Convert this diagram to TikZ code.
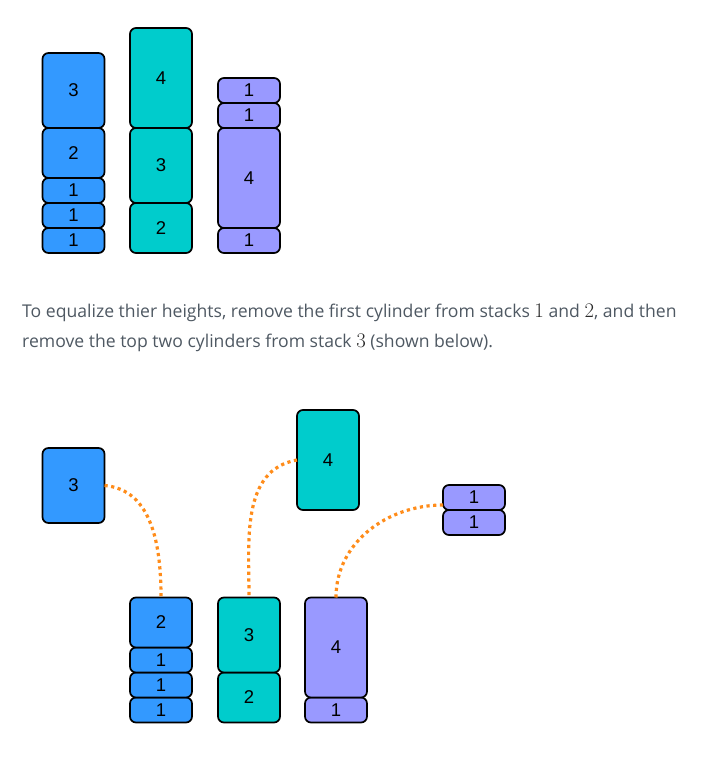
\documentclass[tikz,border=0pt]{standalone}
\usepackage{fontspec}
\setmainfont{Open Sans}
\newfontfamily\cylfont{Liberation Sans}
\usetikzlibrary{positioning}

\definecolor{cylblue}{RGB}{51,153,255}
\definecolor{cylteal}{RGB}{0,204,204}
\definecolor{cylpurple}{RGB}{153,153,255}
\definecolor{dotorange}{RGB}{255,140,26}
\definecolor{textgrey}{RGB}{78,88,98}
\definecolor{mathgrey}{RGB}{40,40,40}

\newcommand{\stacknum}[1]{{\fontsize{21.5}{21.5}\selectfont\color{mathgrey}$#1$}}

\tikzset{
  cyl/.style={draw, line width=1.7pt, rounded corners=6pt, minimum width=62pt,
    inner sep=0pt, outer sep=0pt, font=\cylfont\fontsize{18.5}{18.5}\selectfont},
  bluecyl/.style={cyl, fill=cylblue},
  tealcyl/.style={cyl, fill=cylteal},
  purplecyl/.style={cyl, fill=cylpurple},
  one/.style={minimum height=25pt},
  two/.style={minimum height=50pt},
  three/.style={minimum height=75pt},
  four/.style={minimum height=100pt},
  moved/.style={draw=dotorange, line width=3.2pt, dash pattern=on 3.2pt off 3.5pt},
  caption/.style={anchor=base west, inner sep=0pt, text=textgrey,
    font=\fontsize{17.6}{17.6}\selectfont}
}

\begin{document}
\begin{tikzpicture}[x=1pt, y=-1pt]
    \useasboundingbox (0,0) rectangle (714,759);

    % Pilas iniciales
    \node[bluecyl, one, anchor=south] (a1) at (73.5,253) {1};
    \node[bluecyl, one, above=0pt of a1] (a2) {1};
    \node[bluecyl, one, above=0pt of a2] (a3) {1};
    \node[bluecyl, two, above=0pt of a3] (a4) {2};
    \node[bluecyl, three, above=0pt of a4] (a5) {3};

    \node[tealcyl, two, anchor=south] (b1) at (161,253) {2};
    \node[tealcyl, three, above=0pt of b1] (b2) {3};
    \node[tealcyl, four, above=0pt of b2] (b3) {4};

    \node[purplecyl, one, anchor=south] (c1) at (249,253) {1};
    \node[purplecyl, four, above=0pt of c1] (c2) {4};
    \node[purplecyl, one, above=0pt of c2] (c3) {1};
    \node[purplecyl, one, above=0pt of c3] (c4) {1};

    % Texto
    \node[caption] (line1) at (22,317.5) {To equalize thier heights, remove the first cylinder from stacks \stacknum{1} and \stacknum{2}, and then};
    \node[caption] (line2) at (22,347.5) {remove the top two cylinders from stack \stacknum{3} (shown below).};

    % Pilas igualadas
    \node[bluecyl, one, anchor=south] (p1) at (161,722.5) {1};
    \node[bluecyl, one, above=0pt of p1] (p2) {1};
    \node[bluecyl, one, above=0pt of p2] (p3) {1};
    \node[bluecyl, two, above=0pt of p3] (p4) {2};

    \node[tealcyl, two, anchor=south] (q1) at (249,722.5) {2};
    \node[tealcyl, three, above=0pt of q1] (q2) {3};

    \node[purplecyl, one, anchor=south] (r1) at (336,722.5) {1};
    \node[purplecyl, four, above=0pt of r1] (r2) {4};

    % Cilindros retirados
    \node[bluecyl, three] (x1) at (73.5,485.5) {3};
    \node[tealcyl, four] (y1) at (328,460) {4};
    \node[purplecyl, one, anchor=south] (z1) at (474,535) {1};
    \node[purplecyl, one, above=0pt of z1] (z2) {1};
    \coordinate (z0) at ([yshift=-7.5pt]z2.west);

    % Recorridos
    \draw[moved] (x1.east) to[out=-5, in=90] (p4.north);
    \draw[moved] (y1.west) to[out=190, in=90] (q2.north);
    \draw[moved] (z0) to[out=180, in=90] (r2.north);
\end{tikzpicture}
\end{document}
